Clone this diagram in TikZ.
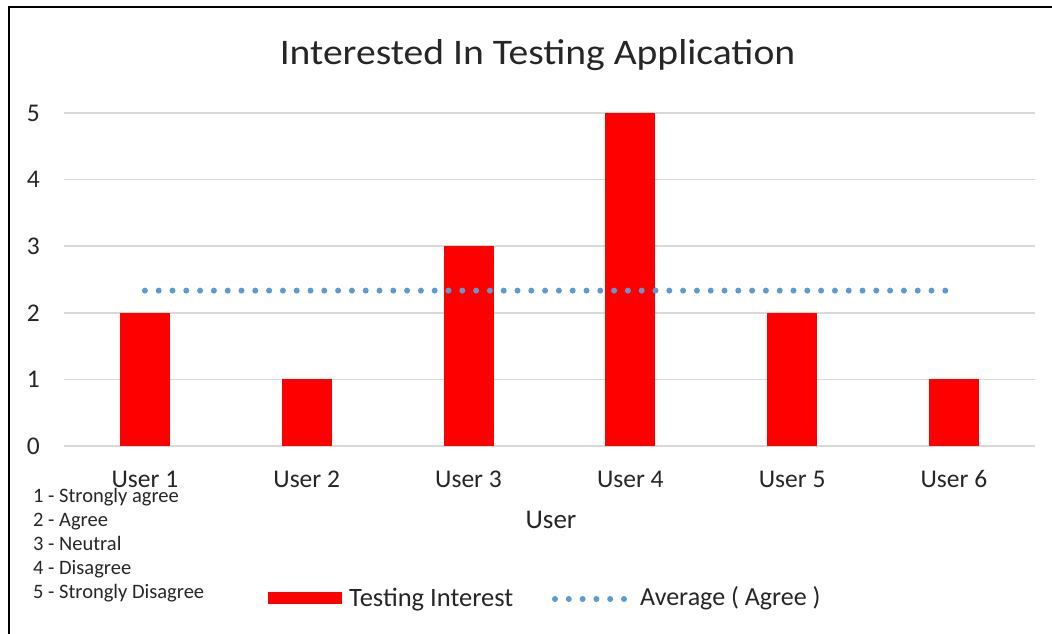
\documentclass[tikz,border=0pt]{standalone}
\usepackage{fontspec}
\setmainfont{Carlito}
\usetikzlibrary{positioning}

\definecolor{barred}{RGB}{255,0,0}
\definecolor{avgblue}{RGB}{91,155,213}
\definecolor{gridgray}{RGB}{217,217,217}
\definecolor{textgray}{RGB}{38,38,38}

\tikzset{
  lbl/.style={text=textgray,inner sep=0pt,font=\fontsize{25.5}{30}\selectfont},
  note/.style={text=textgray,inner sep=0pt,anchor=base west,font=\fontsize{20.5}{24}\selectfont},
  charttitle/.style={text=textgray,inner sep=0pt,anchor=base,xscale=1.1,font=\fontsize{36}{42}\selectfont},
  gridline/.style={draw=gridgray,line width=1.5pt},
  bar/.style={fill=barred},
  avg/.style={draw=avgblue,line width=6pt,line cap=round,dash pattern=on 0pt off 13.8pt}
}

\begin{document}
\begin{tikzpicture}[x=1pt,y=-1pt]
  \useasboundingbox (0,0) rectangle (1052,634);
  % frame
  \draw[line width=2.5pt] (1052,7) -- (9,7) -- (9,640);
  \node[charttitle] (title) at (537.5,65) {Interested In Testing Application};

  % plot area: one unit per user, one unit per score
  \begin{scope}[shift={(64,446)},x=161.8pt,y=66.6pt]
    \foreach \v in {0,...,5} {
      \draw[gridline] (0,\v) -- (6,\v);
      \node[lbl,anchor=east] (y\v) at (-0.148,\v) {\v};
    }
    \foreach \v [count=\i] in {2,1,3,5,2,1} {
      \fill[bar] (\i-0.5-0.1545,0) rectangle (\i-0.5+0.1545,\v);
      \node[lbl,anchor=base] (u\i) at (\i-0.5,-0.63) {User \i};
    }
    \coordinate (avgL) at (0.5,14/6);
    \coordinate (avgR) at (5.5,14/6);
    \draw[avg] (avgL) -- (avgR);
    \node[lbl,anchor=base,font=\fontsize{27}{32}\selectfont] (xtitle) at (3.01,-1.24) {User};
  \end{scope}

  % score key
  \foreach \t [count=\k] in {1 - Strongly agree,2 - Agree,3 - Neutral,4 - Disagree,5 - Strongly Disagree}
    \node[note] (key\k) at (33,{502.7+24*(\k-1)}) {\t};

  % legend
  \node[fill=barred,inner sep=0pt,minimum width=74pt,minimum height=12pt] (legbar) at (305,598) {};
  \node[lbl,anchor=base west,font=\fontsize{26.5}{31}\selectfont] (legbartxt) at (349,606) {Testing Interest};
  \coordinate (legavgL) at (555,599);
  \coordinate (legavgR) at (628,599);
  \draw[avg] (legavgL) -- (legavgR);
  \node[lbl,anchor=base west,font=\fontsize{26}{31}\selectfont] (legavgtxt) at (640,605) {Average ( Agree )};
\end{tikzpicture}
\end{document}
